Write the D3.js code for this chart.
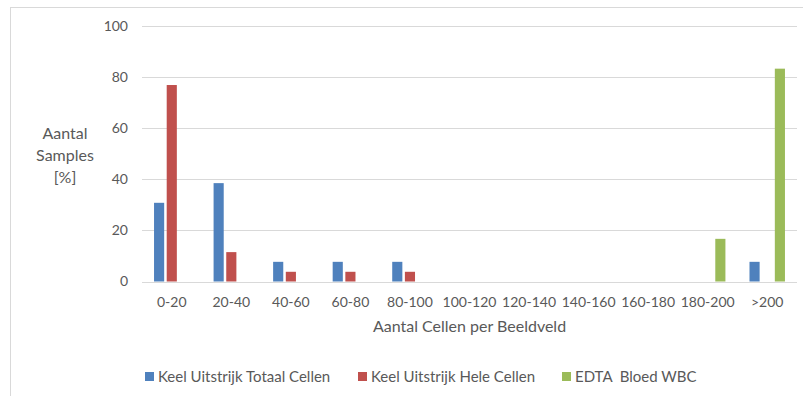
<!DOCTYPE html>
<html>
<head>
<meta charset="utf-8">
<script src="https://cdn.jsdelivr.net/npm/d3@7"></script>
<style>
  html, body { margin: 0; padding: 0; background: #fff; }
  svg { display: block; font-family: "Lato", "Open Sans", sans-serif; }
</style>
</head>
<body>
<svg id="chart" width="803" height="396"></svg>
<script>
// Bins of cell counts per field of view
const categories = ["0-20", "20-40", "40-60", "60-80", "80-100", "100-120", "120-140", "140-160", "160-180", "180-200", ">200"];
// Percentage of samples per bin
const keelTotaal = [30.8, 38.5, 7.7, 7.7, 7.7, 0, 0, 0, 0, 0, 7.7];
const keelHele   = [76.9, 11.5, 3.8, 3.8, 3.8, 0, 0, 0, 0, 0, 0];
const edtaWBC    = [0, 0, 0, 0, 0, 0, 0, 0, 0, 16.7, 83.3];
const seriesNames = ["Keel Uitstrijk Totaal Cellen", "Keel Uitstrijk Hele Cellen", "EDTA  Bloed WBC"];
const yTicks = [0, 20, 40, 60, 80, 100];

const colors = ["#4F81BD", "#C0504D", "#9BBB59"];
const seriesValues = [keelTotaal, keelHele, edtaWBC];

const svg = d3.select("#chart");

// Chart frame
svg.append("rect")
  .attr("x", 10.5).attr("y", 7.5)
  .attr("width", 800).attr("height", 400)
  .attr("fill", "#fff").attr("stroke", "#d9d9d9").attr("stroke-width", 1);

const plot = { left: 142, right: 797, top: 26, bottom: 281.5 };

const x = d3.scaleBand().domain(categories).range([plot.left, plot.right]).paddingInner(0).paddingOuter(0);
const y = d3.scaleLinear().domain([0, 100]).range([plot.bottom, plot.top]);

// Gridlines
svg.append("g").selectAll("line").data(yTicks).join("line")
  .attr("x1", plot.left).attr("x2", plot.right)
  .attr("y1", d => Math.round(y(d)) + 0.5).attr("y2", d => Math.round(y(d)) + 0.5)
  .attr("stroke", "#d9d9d9").attr("stroke-width", 1);

// Y tick labels
const yAxis = d3.axisLeft(y).tickValues(yTicks).tickSize(0).tickPadding(0);
const gy = svg.append("g").attr("transform", `translate(128,0)`).call(yAxis);
gy.select(".domain").remove();
gy.selectAll("text").attr("font-size", 14).attr("fill", "#595959").attr("font-family", "Lato, sans-serif");

// Bars
const inner = d3.scaleBand().domain(d3.range(3)).range([0, x.bandwidth()]).paddingInner(0.2).paddingOuter(0.95);
seriesValues.forEach((vals, s) => {
  svg.append("g").selectAll("rect").data(vals.map((v, i) => ({ c: categories[i], v }))).join("rect")
    .attr("x", d => x(d.c) + inner(s))
    .attr("width", inner.bandwidth())
    .attr("y", d => y(d.v))
    .attr("height", d => y(0) - y(d.v))
    .attr("fill", colors[s]);
});

// X tick labels
const xAxis = d3.axisBottom(x).tickSize(0).tickPadding(0);
const gx = svg.append("g").attr("transform", `translate(0,${plot.bottom + 16})`).call(xAxis);
gx.select(".domain").remove();
gx.selectAll("text").attr("font-size", 14).attr("fill", "#595959").attr("font-family", "Lato, sans-serif");

// Axis titles
svg.append("text")
  .attr("x", (plot.left + plot.right) / 2).attr("y", 332)
  .attr("text-anchor", "middle").attr("font-size", 16).attr("fill", "#595959")
  .text("Aantal Cellen per Beeldveld");

const yTitle = svg.append("text")
  .attr("text-anchor", "middle").attr("font-size", 16).attr("fill", "#595959");
["Aantal", "Samples", "[%]"].forEach((t, i) => {
  yTitle.append("tspan").attr("x", 65).attr("y", 139 + i * 22).text(t);
});

// Legend
const legendX = [145, 358, 562];
const lg = svg.append("g");
seriesNames.forEach((n, i) => {
  lg.append("rect").attr("x", legendX[i]).attr("y", 372).attr("width", 9).attr("height", 9).attr("fill", colors[i]);
  lg.append("text").attr("x", legendX[i] + 13).attr("y", 382)
    .attr("font-size", 15).attr("fill", "#595959")
    .style("white-space", "pre").text(n);
});
</script>
</body>
</html>
